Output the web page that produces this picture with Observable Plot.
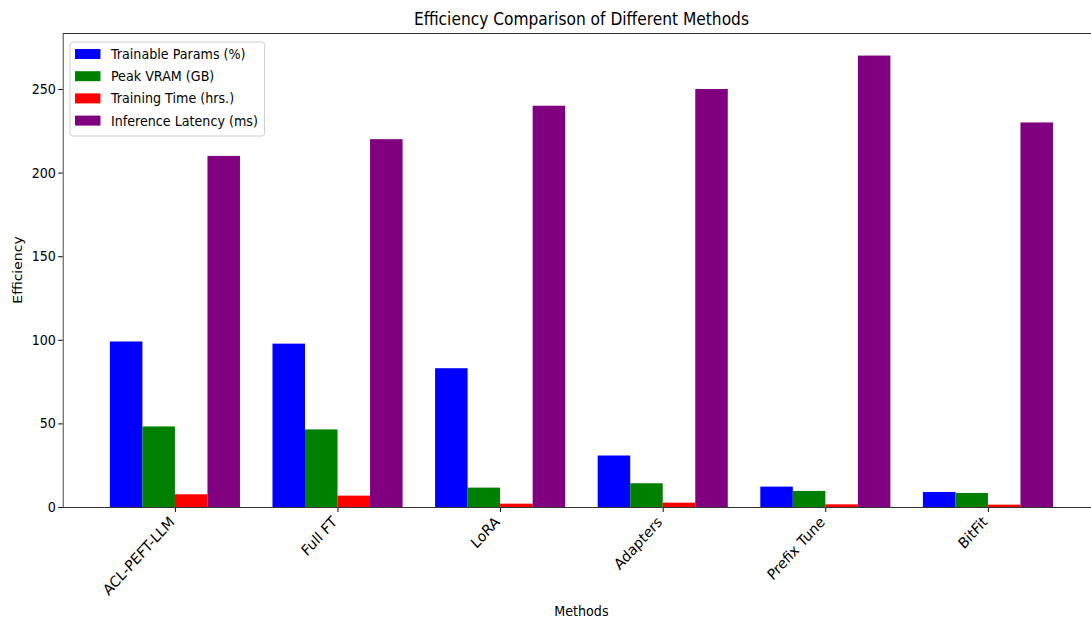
<!DOCTYPE html>
<html>
<head>
<meta charset="utf-8">
<script src="https://cdn.jsdelivr.net/npm/d3@7"></script>
<script src="https://cdn.jsdelivr.net/npm/@observablehq/plot@0.6"></script>
<style>
  html, body { margin: 0; padding: 0; background: #fff; overflow: hidden; }
  #wrap { width: 1091px; height: 621px; overflow: hidden; position: relative; }
  #inner { width: 1210px; transform: scaleX(0.9092); transform-origin: 0 0; }
  #inner svg g[aria-label^="x-axis"] text { font-size: 15px; }
</style>
</head>
<body>
<div id="wrap"><div id="inner"></div></div>
<script>
const methods = ["ACL-PEFT-LLM", "Full FT", "LoRA", "Adapters", "Prefix Tune", "BitFit"];
const seriesNames = ["Trainable Params (%)", "Peak VRAM (GB)", "Training Time (hrs.)", "Inference Latency (ms)"];
const seriesColors = ["blue", "green", "red", "purple"];
const trainableParams = [99, 97.7, 83, 30.8, 12.2, 9];
const peakVram = [48.2, 46.4, 11.6, 14.2, 9.6, 8.4];
const trainingTime = [7.6, 6.8, 2, 2.6, 1.6, 1.4];
const inferenceLatency = [210, 220, 240, 250, 270, 230];
const yTicks = [0, 50, 100, 150, 200, 250];

const seriesValues = [trainableParams, peakVram, trainingTime, inferenceLatency];
const barWidth = 0.2;
const rows = [];
methods.forEach((m, i) => {
  seriesValues.forEach((vals, s) => {
    rows.push({
      method: m,
      series: seriesNames[s],
      x1: i + (s - 2) * barWidth,
      x2: i + (s - 1) * barWidth,
      value: vals[i]
    });
  });
});

const W = 1210, H = 621, ML = 69, MT = 33, MB = 114;
const plot = Plot.plot({
  width: W,
  height: H,
  marginLeft: ML,
  marginRight: 0,
  marginTop: MT,
  marginBottom: MB,
  style: { fontFamily: "DejaVu Sans", fontSize: "14px", color: "#000", background: "#fff" },
  x: {
    type: "linear",
    domain: [-0.69, 5.69],
    ticks: [0, 1, 2, 3, 4, 5],
    tickFormat: i => methods[i],
    tickRotate: -45,
    tickSize: 5,
    tickPadding: 7,
    label: null
  },
  y: {
    domain: [0, 283.5],
    ticks: yTicks,
    tickSize: 5,
    tickPadding: 3,
    label: null
  },
  color: { domain: seriesNames, range: seriesColors },
  marks: [
    Plot.rect(rows, { x1: "x1", x2: "x2", y1: 0, y2: "value", fill: "series" }),
    Plot.frame({ stroke: "#333", strokeWidth: 1 })
  ]
});
document.getElementById("inner").appendChild(plot);

const svg = d3.select(plot);
// nudge rotated x tick labels slightly left, like matplotlib's right-aligned bbox
svg.selectAll('g[aria-label="x-axis tick label"] text').each(function () {
  const t = d3.select(this);
  const tr = t.attr("transform") || "";
  t.attr("transform", "translate(-3.5,0) " + tr);
});
// Title
svg.append("text")
  .attr("x", (ML + W) / 2).attr("y", 25)
  .attr("text-anchor", "middle")
  .style("font-size", "17px")
  .text("Efficiency Comparison of Different Methods");
// Axis labels
svg.append("text")
  .attr("x", (ML + W) / 2).attr("y", 616)
  .attr("text-anchor", "middle")
  .style("font-size", "14px")
  .text("Methods");
svg.append("text")
  .attr("transform", `translate(24,${(MT + H - MB) / 2}) rotate(-90)`)
  .attr("text-anchor", "middle")
  .style("font-size", "14px")
  .text("Efficiency");
// Legend
const lg = svg.append("g").attr("text-anchor", "start");
lg.append("rect")
  .attr("x", 77).attr("y", 42).attr("width", 214).attr("height", 94)
  .attr("rx", 3).attr("fill", "white").attr("fill-opacity", 0.8)
  .attr("stroke", "#ccc");
seriesNames.forEach((name, k) => {
  const cy = 54 + k * 22.2;
  lg.append("rect")
    .attr("x", 82.5).attr("y", cy - 5).attr("width", 28).attr("height", 10)
    .attr("fill", seriesColors[k]);
  lg.append("text")
    .attr("x", 122).attr("y", cy + 5)
    .attr("text-anchor", "start")
    .style("font-size", "14px")
    .text(name);
});
</script>
</body>
</html>
